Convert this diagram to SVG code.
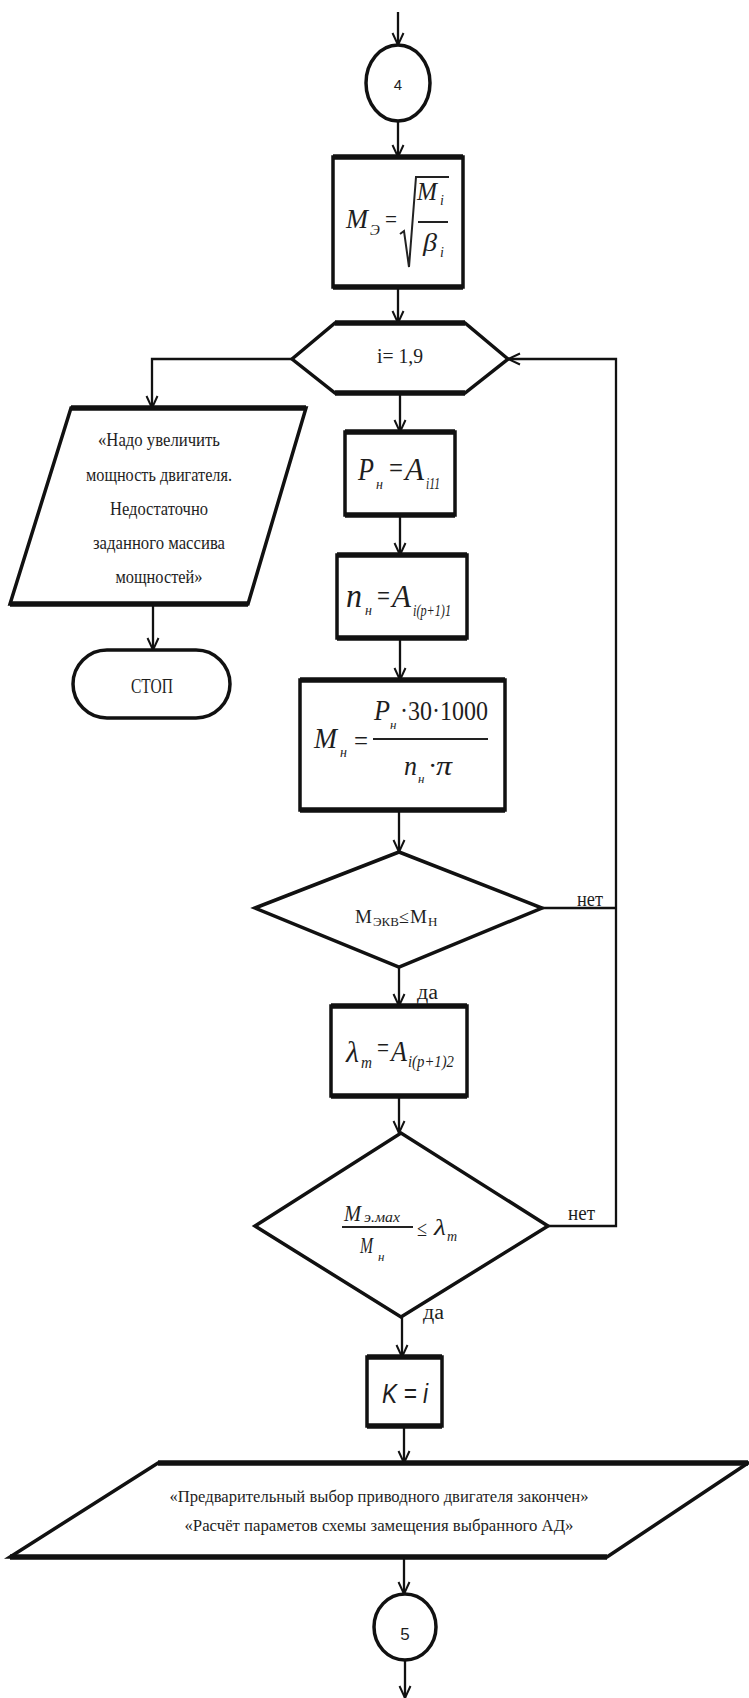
<svg xmlns="http://www.w3.org/2000/svg" width="749" height="1698" viewBox="0 0 749 1698">
<style>
.s{fill:#fff;stroke:#111;stroke-width:3.5;stroke-linejoin:miter}
.e{fill:none;stroke:#111;stroke-width:5.5}
.c{fill:none;stroke:#111;stroke-width:2.3}
.f{fill:none;stroke:#222;stroke-width:2}
.t{font-family:"Liberation Serif","Times New Roman",serif;fill:#1e1e1e}
.i{font-style:italic}
.m{text-anchor:middle}
.sn{font-family:"Liberation Sans",Arial,sans-serif;fill:#1e1e1e}
</style>
<defs>
<marker id="a" viewBox="0 0 14 14" refX="13" refY="7" markerWidth="14" markerHeight="14" markerUnits="userSpaceOnUse" orient="auto">
<path d="M1,1.5 L13,7 L1,12.5" fill="none" stroke="#111" stroke-width="2"/>
</marker>
</defs>
<rect width="749" height="1698" fill="#fff"/>

<g id="connectors">
<path class="c" d="M398,12 V45" marker-end="url(#a)"/>
<path class="c" d="M398,122 V157" marker-end="url(#a)"/>
<path class="c" d="M398,287 V323" marker-end="url(#a)"/>
<path class="c" d="M292,359 H152 V408" marker-end="url(#a)"/>
<path class="c" d="M153,604 V650" marker-end="url(#a)"/>
<path class="c" d="M400,393 V432" marker-end="url(#a)"/>
<path class="c" d="M400,515 V555" marker-end="url(#a)"/>
<path class="c" d="M400,638 V680" marker-end="url(#a)"/>
<path class="c" d="M399,810 V852" marker-end="url(#a)"/>
<path class="c" d="M542,908 H616"/>
<path class="c" d="M399,967 V1006" marker-end="url(#a)"/>
<path class="c" d="M399,1096 V1133" marker-end="url(#a)"/>
<path class="c" d="M548,1226 H616 V359 H508" marker-end="url(#a)"/>
<path class="c" d="M402,1317 V1357" marker-end="url(#a)"/>
<path class="c" d="M404,1426 V1463" marker-end="url(#a)"/>
<path class="c" d="M404,1557 V1594" marker-end="url(#a)"/>
<path class="c" d="M405,1660 V1698" marker-end="url(#a)"/>
</g>

<g id="n4">
<ellipse class="s" cx="398" cy="83" rx="32" ry="38"/>
<text class="sn m" x="398" y="90" font-size="15">4</text>
</g>

<g id="box_me">
<rect class="s" x="333" y="157" width="130" height="130"/>
<path class="e" d="M333,157 H463 M333,287 H463"/>
<text class="t i" x="346" y="228" font-size="28" textLength="22" lengthAdjust="spacingAndGlyphs">M</text>
<text class="t i" x="370" y="235" font-size="15">Э</text>
<text class="t" x="385" y="228" font-size="26" textLength="12" lengthAdjust="spacingAndGlyphs">=</text>
<path class="f" d="M400,234 L404,231 L409,267 L416,177 L449,177"/>
<text class="t i" x="417" y="200" font-size="26" textLength="20" lengthAdjust="spacingAndGlyphs">M</text>
<text class="t i" x="440" y="205" font-size="14">i</text>
<path class="f" d="M418,222 H448"/>
<text class="t i" x="423" y="251" font-size="26" textLength="14" lengthAdjust="spacingAndGlyphs">β</text>
<text class="t i" x="440" y="257" font-size="14">i</text>
</g>

<g id="loop">
<polygon class="s" points="292,359 335,323 465,323 508,359 465,393 335,393"/>
<path class="e" d="M335,323 H465 M335,393 H465"/>
<text class="t m" x="400" y="363" font-size="20" textLength="46" lengthAdjust="spacingAndGlyphs">i= 1,9</text>
</g>

<g id="msg_increase">
<polygon class="s" points="71,408 306,408 248,604 10,604"/>
<path class="e" d="M71,408 H306 M10,604 H248"/>
<text class="t m" x="159" y="446" font-size="19" textLength="122" lengthAdjust="spacingAndGlyphs">«Надо увеличить</text>
<text class="t m" x="159" y="481" font-size="19" textLength="146" lengthAdjust="spacingAndGlyphs">мощность двигателя.</text>
<text class="t m" x="159" y="515" font-size="19" textLength="98" lengthAdjust="spacingAndGlyphs">Недостаточно</text>
<text class="t m" x="159" y="549" font-size="19" textLength="132" lengthAdjust="spacingAndGlyphs">заданного массива</text>
<text class="t m" x="159" y="583" font-size="19" textLength="87" lengthAdjust="spacingAndGlyphs">мощностей»</text>
</g>

<g id="stop">
<rect class="s" x="73" y="650" width="157" height="68" rx="34" ry="34"/>
<text class="t m" x="152" y="693" font-size="22" textLength="42" lengthAdjust="spacingAndGlyphs">СТОП</text>
</g>

<g id="box_p">
<rect class="s" x="345" y="432" width="110" height="83"/>
<path class="e" d="M345,432 H455 M345,515 H455"/>
<text class="t i" x="358" y="480" font-size="32" textLength="16" lengthAdjust="spacingAndGlyphs">P</text>
<text class="t i" x="376" y="489" font-size="14">н</text>
<text class="t" x="389" y="478" font-size="30" textLength="14" lengthAdjust="spacingAndGlyphs">=</text>
<text class="t i" x="405" y="480" font-size="32" textLength="19" lengthAdjust="spacingAndGlyphs">A</text>
<text class="t i" x="426" y="489" font-size="17" textLength="14" lengthAdjust="spacingAndGlyphs">i11</text>
</g>

<g id="box_n">
<rect class="s" x="337" y="555" width="130" height="83"/>
<path class="e" d="M337,555 H467 M337,638 H467"/>
<text class="t i" x="346" y="607" font-size="34" textLength="16" lengthAdjust="spacingAndGlyphs">n</text>
<text class="t i" x="365" y="615" font-size="14">н</text>
<text class="t" x="377" y="606" font-size="30" textLength="13" lengthAdjust="spacingAndGlyphs">=</text>
<text class="t i" x="392" y="607" font-size="32" textLength="19" lengthAdjust="spacingAndGlyphs">A</text>
<text class="t i" x="413" y="616" font-size="17" textLength="38" lengthAdjust="spacingAndGlyphs">i(p+1)1</text>
</g>

<g id="box_mn">
<rect class="s" x="300" y="680" width="205" height="130"/>
<path class="e" d="M300,680 H505 M300,810 H505"/>
<text class="t i" x="314" y="748" font-size="30" textLength="23" lengthAdjust="spacingAndGlyphs">M</text>
<text class="t i" x="340" y="757" font-size="14">н</text>
<text class="t" x="354" y="750" font-size="28" textLength="14" lengthAdjust="spacingAndGlyphs">=</text>
<path class="f" d="M373,739 H488"/>
<text class="t i" x="374" y="720" font-size="30" textLength="16" lengthAdjust="spacingAndGlyphs">P</text>
<text class="t i" x="390" y="729" font-size="13">н</text>
<text class="t" x="400" y="720" font-size="28" textLength="88" lengthAdjust="spacingAndGlyphs">·30·1000</text>
<text class="t i" x="404" y="775" font-size="28" textLength="13" lengthAdjust="spacingAndGlyphs">n</text>
<text class="t i" x="418" y="783" font-size="13">н</text>
<text class="t" x="428" y="775" font-size="28">·</text>
<text class="t i" x="436" y="775" font-size="28" textLength="16" lengthAdjust="spacingAndGlyphs">π</text>
</g>

<g id="cond1">
<polygon class="s" points="255,908 399,852 542,908 399,967"/>
<text class="t" x="355" y="923" font-size="19">M</text>
<text class="t" x="373" y="926" font-size="13">ЭКВ</text>
<text class="t" x="399" y="923" font-size="18">≤</text>
<text class="t" x="410" y="923" font-size="19">M</text>
<text class="t" x="428" y="926" font-size="13">Н</text>
<text class="t" x="577" y="906" font-size="20" textLength="26" lengthAdjust="spacingAndGlyphs">нет</text>
<text class="t" x="417" y="999" font-size="20" textLength="21" lengthAdjust="spacingAndGlyphs">да</text>
</g>

<g id="box_lambda">
<rect class="s" x="331" y="1006" width="136" height="90"/>
<path class="e" d="M331,1006 H467 M331,1096 H467"/>
<text class="t i" x="346" y="1062" font-size="30" textLength="13" lengthAdjust="spacingAndGlyphs">λ</text>
<text class="t i" x="361" y="1068" font-size="16" textLength="11" lengthAdjust="spacingAndGlyphs">т</text>
<text class="t" x="377" y="1057" font-size="28" textLength="12" lengthAdjust="spacingAndGlyphs">=</text>
<text class="t i" x="391" y="1061" font-size="30" textLength="16" lengthAdjust="spacingAndGlyphs">A</text>
<text class="t i" x="408" y="1067" font-size="17" textLength="46" lengthAdjust="spacingAndGlyphs">i(p+1)2</text>
</g>

<g id="cond2">
<polygon class="s" points="255,1226 401,1133 548,1226 401,1317"/>
<text class="t i" x="344" y="1221" font-size="24" textLength="17" lengthAdjust="spacingAndGlyphs">M</text>
<text class="t i" x="364" y="1222" font-size="15" textLength="36" lengthAdjust="spacingAndGlyphs">э.мах</text>
<path class="f" d="M342,1227 H413" stroke-width="1.8"/>
<text class="t i" x="360" y="1253" font-size="24" textLength="13" lengthAdjust="spacingAndGlyphs">M</text>
<text class="t i" x="378" y="1261" font-size="13">н</text>
<text class="t" x="417" y="1236" font-size="22" textLength="10" lengthAdjust="spacingAndGlyphs">≤</text>
<text class="t i" x="434" y="1235" font-size="24" textLength="12" lengthAdjust="spacingAndGlyphs">λ</text>
<text class="t i" x="447" y="1241" font-size="14">т</text>
<text class="t" x="568" y="1220" font-size="20" textLength="27" lengthAdjust="spacingAndGlyphs">нет</text>
<text class="t" x="423" y="1319" font-size="20" textLength="21" lengthAdjust="spacingAndGlyphs">да</text>
</g>

<g id="box_k">
<rect class="s" x="367" y="1357" width="75" height="69"/>
<path class="e" d="M367,1357 H442 M367,1426 H442"/>
<text class="sn i" x="382" y="1403" font-size="27" textLength="46" lengthAdjust="spacingAndGlyphs">K = i</text>
</g>

<g id="msg_done">
<polygon class="s" points="158,1463 748,1463 607,1557 10,1557"/>
<path class="e" d="M158,1463 H748 M10,1557 H607"/>
<text class="t m" x="379" y="1502" font-size="17" textLength="419" lengthAdjust="spacingAndGlyphs">«Предварительный выбор приводного двигателя закончен»</text>
<text class="t m" x="379" y="1531" font-size="17" textLength="389" lengthAdjust="spacingAndGlyphs">«Расчёт параметов схемы замещения выбранного АД»</text>
</g>

<g id="n5">
<ellipse class="s" cx="405" cy="1627" rx="31" ry="33"/>
<text class="sn m" x="405" y="1640" font-size="17">5</text>
</g>
</svg>
